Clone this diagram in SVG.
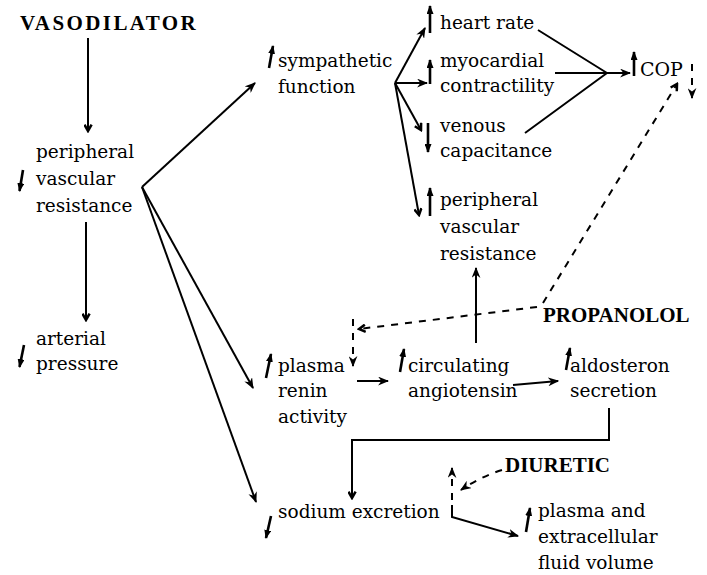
<svg xmlns="http://www.w3.org/2000/svg" width="707" height="575" viewBox="0 0 707 575">
<style>
text{font-family:"DejaVu Serif",serif;font-size:18.5px;fill:#000}
.b{font-family:"Liberation Serif","DejaVu Serif",serif;font-weight:bold;font-size:21px}
.ln{fill:none;stroke:#000;stroke-width:2}
.ds{fill:none;stroke:#000;stroke-width:2;stroke-dasharray:7 7}
.ic{fill:none;stroke:#000;stroke-width:2.6}
</style>
<defs>
<marker id="ah" viewBox="0 0 10 8" refX="9" refY="4" markerWidth="11" markerHeight="9" markerUnits="userSpaceOnUse" orient="auto"><path d="M0,0 L10,4 L0,8 L3,4 z" fill="#000"/></marker>
<marker id="ch" viewBox="0 0 10 10" refX="8" refY="5" markerWidth="9" markerHeight="9" markerUnits="userSpaceOnUse" orient="auto"><path d="M1,1 L8,5 L1,9" fill="none" stroke="#000" stroke-width="2.8"/></marker>
<marker id="ih" viewBox="0 0 9 7" refX="8" refY="3.5" markerWidth="9" markerHeight="7" markerUnits="userSpaceOnUse" orient="auto"><path d="M0,0 L9,3.5 L0,7 z" fill="#000"/></marker>
</defs>

<g id="connectors">
<path class="ln" d="M88,38 V131" marker-end="url(#ch)"/>
<path class="ln" d="M86,222 V320" marker-end="url(#ch)"/>
<path class="ln" d="M142,187 L255,83" marker-end="url(#ah)"/>
<path class="ln" d="M142,187 L253,388" marker-end="url(#ah)"/>
<path class="ln" d="M142,187 L256,502" marker-end="url(#ah)"/>
<path class="ln" d="M395,83 L425,28" marker-end="url(#ah)"/>
<path class="ln" d="M395,83 H427" marker-end="url(#ah)"/>
<path class="ln" d="M395,83 L421,130" marker-end="url(#ch)"/>
<path class="ln" d="M395,83 L419,215" marker-end="url(#ch)"/>
<path class="ln" d="M538,30 L607,73 M555,73 H607 M525,133 L607,73"/>
<path class="ln" d="M607,73 H630" marker-end="url(#ah)"/>
<path class="ln" d="M476,343 V268" marker-end="url(#ah)"/>
<path class="ln" d="M357,381 H388" marker-end="url(#ah)"/>
<path class="ln" d="M513,385 L558,381" marker-end="url(#ah)"/>
<path class="ln" d="M609,408 V440 H352 V498" marker-end="url(#ch)"/>
<path class="ln" d="M452,505 V517 L518,536" marker-end="url(#ah)"/>
<path class="ds" d="M543,303 L677,84" marker-end="url(#ch)"/>
<path class="ds" d="M537,307 L359,329" marker-end="url(#ch)"/>
<path class="ds" d="M353,319 V366" stroke-dasharray="7 5" marker-end="url(#ah)"/>
<path class="ds" d="M692,64 V98" stroke-dasharray="7 5" marker-end="url(#ah)"/>
<path class="ds" d="M452,500 V468" stroke-dasharray="10 6" marker-end="url(#ah)"/>
<path class="ds" d="M502,470 Q480,477 461,490" stroke-dasharray="6 5" marker-end="url(#ah)"/>
</g>

<g id="vasodilator"><text class="b" x="20" y="30" letter-spacing="2.4">VASODILATOR</text></g>
<g id="pvr1"><path class="ic" d="M23,170 L19.5,191" marker-end="url(#ih)"/><text x="36" y="158">peripheral</text><text x="36" y="185">vascular</text><text x="36" y="212">resistance</text></g>
<g id="arterial"><path class="ic" d="M24,345 L19.5,367" marker-end="url(#ih)"/><text x="36" y="345">arterial</text><text x="36" y="370">pressure</text></g>
<g id="sympathetic"><path class="ic" d="M269,68 L273,46" marker-end="url(#ih)"/><text x="278" y="67">sympathetic</text><text x="278" y="93">function</text></g>
<g id="heartrate"><path class="ic" d="M430,33 V6" marker-end="url(#ih)"/><text x="440" y="29">heart rate</text></g>
<g id="myocardial"><path class="ic" d="M430,84 V60" marker-end="url(#ih)"/><text x="440" y="67">myocardial</text><text x="440" y="92">contractility</text></g>
<g id="venous"><path class="ic" d="M428,123 V152" marker-end="url(#ih)"/><text x="440" y="132">venous</text><text x="440" y="157">capacitance</text></g>
<g id="pvr2"><path class="ic" d="M430,216 V188" marker-end="url(#ih)"/><text x="440" y="206">peripheral</text><text x="440" y="233">vascular</text><text x="440" y="260">resistance</text></g>
<g id="cop"><path class="ic" d="M634,76 V52" marker-end="url(#ih)"/><text x="640" y="76" style="font-size:19px">COP</text></g>
<g id="propanolol"><text class="b" x="543" y="322">PROPANOLOL</text></g>
<g id="renin"><path class="ic" d="M266,378 L271,354" marker-end="url(#ih)"/><text x="278" y="372">plasma</text><text x="278" y="397">renin</text><text x="278" y="423">activity</text></g>
<g id="angiotensin"><path class="ic" d="M400,372 L404,349" marker-end="url(#ih)"/><text x="408" y="372">circulating</text><text x="408" y="397">angiotensin</text></g>
<g id="aldosteron"><path class="ic" d="M566,370 L570,348" marker-end="url(#ih)"/><text x="570" y="372">aldosteron</text><text x="570" y="397">secretion</text></g>
<g id="sodium"><path class="ic" d="M271,516 L266,538" marker-end="url(#ih)"/><text x="278" y="518">sodium excretion</text></g>
<g id="diuretic"><text class="b" x="505" y="472">DIURETIC</text></g>
<g id="volume"><path class="ic" d="M526,532 L530,508" marker-end="url(#ih)"/><text x="538" y="517">plasma and</text><text x="538" y="543">extracellular</text><text x="538" y="569">fluid volume</text></g>
</svg>
